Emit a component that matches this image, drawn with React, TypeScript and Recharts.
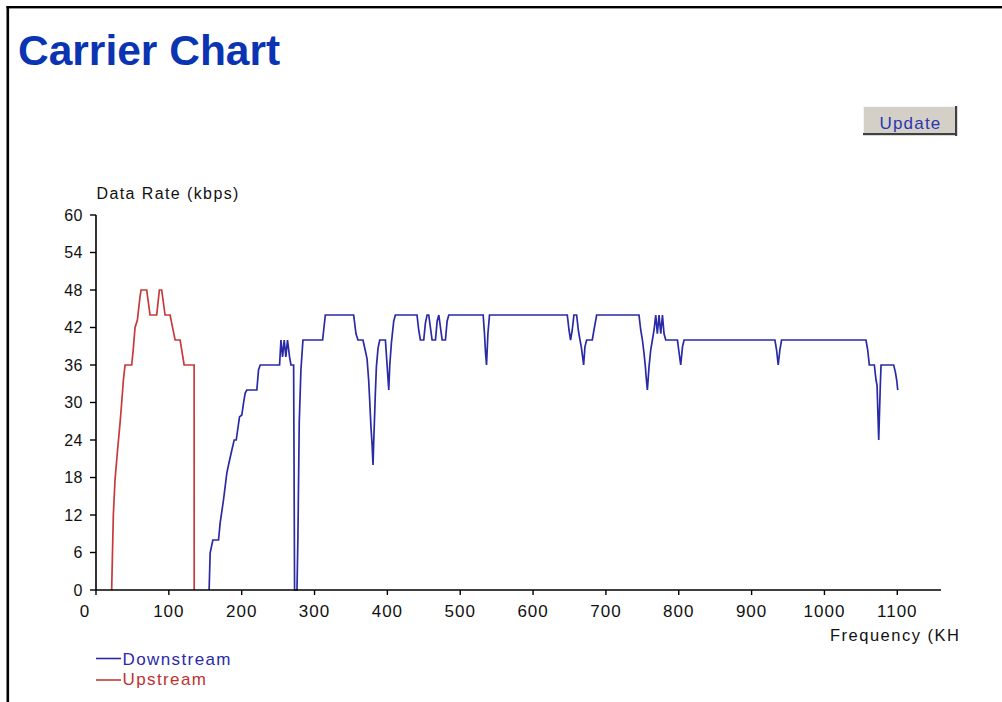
import React from 'react';
import { LineChart, Line, XAxis, YAxis } from 'recharts';

// Upstream tones: [frequency kHz, data rate kbps]
const upFreq = [21.5, 23.8, 26.1, 29.3, 33, 35.3, 37.6, 39.9, 49, 51.3, 53.6, 56.8, 60.5, 61.9, 69.6, 74.2, 83.3, 87, 90.2, 94.8, 101.7, 103.9, 108.6, 115.5, 121, 134.7, 134.8];
const upRate = [0, 12, 17.6, 22, 26.7, 30, 33.6, 36, 36, 38.7, 42, 43.2, 47, 48, 48, 44, 44, 48, 48, 44, 44, 42.7, 40, 40, 36, 36, 0];

const downFreq = [
  155.3, 156.7, 160.4, 168.2, 170.4, 175, 179.6, 181.9, 186.5, 189.7, 192.5, 197, 200.2, 202.5, 204.8, 207.1, 220.8, 223.1, 225.4,
  252, 253.9, 256.1, 258.4, 260.6, 262.9, 265.7, 267.6, 271.3, 272.6, 275.9, 277.2, 279, 281.3, 284.1,
  311.1, 314.8, 353.7, 356.9, 359.6, 366.5, 368.4, 372.1, 374.3, 375.7, 377.5, 378.9, 380.3, 381.2, 383.5, 384.9, 387.2, 389.5,
  397.3, 399.6, 401.9, 403.3, 405.5, 408.7, 411, 440.7, 443, 445.3, 449.9, 452.2, 454.5, 456.8, 461.4, 466, 468.3, 470.6,
  472.9, 475.2, 479.7, 482, 484.3, 531.5, 533.3, 534.7, 536.1, 538, 540.2,
  647, 649.3, 651.5, 653.8, 656.1, 659.8, 662.1, 664.4, 666.2, 668, 669.4, 671.2, 673.5, 681.3, 683.6, 687.3,
  745.4, 747.8, 750.1, 752.3, 754.2, 755.6, 756.9, 759.2, 761.5, 763.8, 766.1, 768.4, 770.6, 772.9, 775.3, 777.6, 779.8, 782.1,
  798.2, 800.4, 802.7, 805.1, 807.3,
  932, 934.3, 936.5, 938.8, 941.1, 1057, 1059.4, 1061.6, 1068.5, 1070.8, 1072.2, 1073.1, 1074.5, 1075.3, 1076.7, 1077.7, 1080,
  1095, 1097.3, 1099.2, 1100.6,
];
const downRate = [
  0, 5.9, 8, 8, 10.7, 14.4, 18.7, 20, 22.4, 24, 24, 27.7, 28, 29.9, 31.5, 32, 32, 35.2, 36,
  36, 40, 37.3, 40, 37.3, 40, 37.3, 36, 36, 0, 0, 8.5, 26.7, 35.2, 40,
  40, 44, 44, 41, 40, 40, 39, 37, 33.6, 30.4, 26, 23.5, 20, 23.5, 31.5, 35.7, 38.7, 40,
  40, 36, 32, 36, 39.5, 43, 44, 44, 41.6, 40, 40, 42.7, 44, 44, 40, 40, 43, 44,
  42, 40, 40, 43, 44, 44, 41, 38, 36, 41, 44,
  44, 41.6, 40, 41.6, 44, 44, 41.6, 40, 38.9, 37.3, 36, 38.9, 40, 40, 41.6, 44,
  44, 41.6, 40, 37.9, 35.7, 33.6, 32, 35.7, 38.4, 40, 41.6, 44, 41, 44, 41, 44, 41, 40,
  40, 38, 36, 38.9, 40,
  40, 38.4, 36, 38.4, 40, 40, 38.4, 36, 36, 33.6, 32.8, 29.3, 24, 27.2, 32.8, 36, 36,
  36, 34.9, 33.6, 32,
];

const xTicks = [0, 100, 200, 300, 400, 500, 600, 700, 800, 900, 1000, 1100];
const yTicks = [0, 6, 12, 18, 24, 30, 36, 42, 48, 54, 60];

const upData = upFreq.map((f, i) => ({ f, v: upRate[i] }));
const downData = downFreq.map((f, i) => ({ f, v: downRate[i] }));

const FONT = '"Liberation Sans", Arial, sans-serif';
const BLUE_LINE = '#2a2aa6';
const RED_LINE = '#c83a3a';

const XTick = (props: any) => {
  const { x, y, payload } = props;
  const dx = payload.value === 0 ? -11 : 0;
  return (
    <text x={x + dx} y={y} dy="0.72em" textAnchor="middle" fontSize={17} letterSpacing={1}
      fontFamily={FONT} fill="#111">
      {payload.value}
    </text>
  );
};

const YTick = (props: any) => {
  const { x, y, payload } = props;
  return (
    <text x={x} y={y} dy="0.36em" textAnchor="end" fontSize={16} letterSpacing={0.5}
      fontFamily={FONT} fill="#111">
      {payload.value}
    </text>
  );
};

export default function App() {
  return (
    <div style={{ position: 'absolute', left: 0, top: 0, width: 1002, height: 702, background: '#fff', overflow: 'hidden' }}>
      <LineChart width={1002} height={702} margin={{ top: 215, right: 61, left: 36, bottom: 82 }}>
        <XAxis type="number" dataKey="f" domain={[0, 1160]} ticks={xTicks} interval={0}
          tickSize={5} tickMargin={10} tick={<XTick />}
          axisLine={{ stroke: '#000', strokeWidth: 1.6 }} tickLine={{ stroke: '#000', strokeWidth: 1.4 }}
          height={30} allowDuplicatedCategory={false} />
        <YAxis type="number" domain={[0, 60]} ticks={yTicks} interval={0} width={60}
          tickSize={6} tickMargin={7} tick={<YTick />}
          axisLine={{ stroke: '#000', strokeWidth: 1.6 }} tickLine={{ stroke: '#000', strokeWidth: 1.4 }} />
        <Line data={upData} dataKey="v" type="linear" stroke={RED_LINE} strokeWidth={1.7}
          dot={false} activeDot={false} isAnimationActive={false} />
        <Line data={downData} dataKey="v" type="linear" stroke={BLUE_LINE} strokeWidth={1.7}
          dot={false} activeDot={false} isAnimationActive={false} />
      </LineChart>
      <svg width={1002} height={702} style={{ position: 'absolute', left: 0, top: 0, pointerEvents: 'none' }}>
        <defs>
          <clipPath id="xlabelclip">
            <rect x={800} y={610} width={159} height={40} />
          </clipPath>
        </defs>
        {/* frame */}
        <rect x={6.5} y={6} width={2.6} height={700} fill="#000" />
        <rect x={6.5} y={6} width={1000} height={2.4} fill="#000" />
        {/* title */}
        <text x={18} y={65} fontSize={42.5} fontWeight="bold" fontFamily={FONT} fill="#0a34b2">Carrier Chart</text>
        {/* update button */}
        <rect x={863} y={106} width={94} height={29} fill="#d4d0c8" />
        <rect x={863} y={106} width={94} height={1} fill="#f4f4f4" />
        <rect x={863} y={106} width={1} height={29} fill="#f4f4f4" />
        <rect x={955} y={106} width={2.2} height={30} fill="#404040" />
        <rect x={863} y={133} width={94} height={2.2} fill="#404040" />
        <text x={910.5} y={128.5} textAnchor="middle" fontSize={17} letterSpacing={1.2} fontFamily={FONT} fill="#2a36b0">Update</text>
        {/* axis titles */}
        <text x={96.5} y={199} fontSize={16} letterSpacing={1.4} fontFamily={FONT} fill="#111">Data Rate (kbps)</text>
        <g clipPath="url(#xlabelclip)">
          <text x={830} y={640.5} fontSize={16.5} letterSpacing={1.5} fontFamily={FONT} fill="#111">Frequency (KHz)</text>
        </g>
        {/* legend */}
        <line x1={96} x2={121} y1={658.5} y2={658.5} stroke={BLUE_LINE} strokeWidth={1.6} />
        <text x={122.5} y={664.5} fontSize={17} letterSpacing={1.4} fontFamily={FONT} fill="#2a2aa8">Downstream</text>
        <line x1={96} x2={121} y1={680} y2={680} stroke={RED_LINE} strokeWidth={1.6} />
        <text x={122.5} y={685} fontSize={17} letterSpacing={1.4} fontFamily={FONT} fill="#c03030">Upstream</text>
      </svg>
    </div>
  );
}
